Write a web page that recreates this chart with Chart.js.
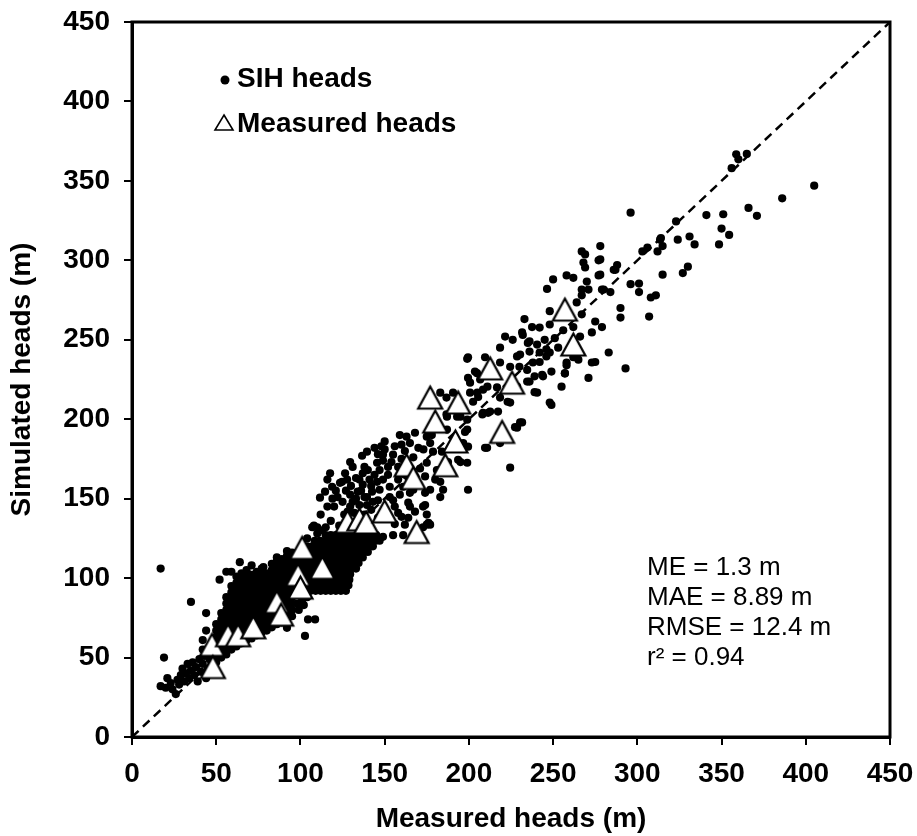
<!DOCTYPE html>
<html>
<head>
<meta charset="utf-8">
<script src="https://cdn.jsdelivr.net/npm/chart.js@4.4.1/dist/chart.umd.min.js"></script>
<style>
    html, body { margin: 0; padding: 0; background: #fff; }
    #wrap { width: 917px; height: 836px; }
</style>
</head>
<body>
<div id="wrap"><canvas id="headsChart" width="917" height="836"></canvas></div>
<script>
// ========================================
// データ (Measured x, Simulated y)
// ========================================

// 軸
const axisMin = 0;
const axisMax = 450;
const axisStep = 50;

// 統計値テキスト
const statLines = ['ME = 1.3 m', 'MAE = 8.89 m', 'RMSE = 12.4 m', 'r\u00B2 = 0.94'];

// SIH heads - 低い側の点
const sihTail = [
    [17,32],[20,31],[21,37],[23,34],[24,30],[26,27],[27,36],[28,33],[29,39],[30,43],
    [31,35],[32,40],[33,46],[34,37],[35,42],[36,47],[37,39],[38,44],[39,35],[40,49],
    [41,41],[42,46],[43,51],[44,37],[45,43],[46,49],[19,50],[42,55],[42,61],[44,67],
    [35,85],[44,78],[17,106],[52,99],[56,104],[59,104],[64,110],[71,108],[78,107],
    [86,113],[92,117],[98,84],[101,86],[104,88],[99,80],[102,83],[104.5,74],[108.7,74],
    [102.7,63.6],[92,68.7]
];

// SIH heads - 密集帯 (x, [y...])
const sihBandColumns = [
    [47, [45,49,53,57]],
    [50, [47,51,55,59,63,67,71]],
    [53, [50,54,58,62,66,70,74,78]],
    [56, [52,56,60,64,68,72,76,80,84,88]],
    [59, [55,59,63,67,71,75,79,83,87,91,95]],
    [62, [57,61,65,69,73,77,81,85,89,93,97,101]],
    [65, [59,63,67,71,75,79,83,87,91,95,99,103]],
    [68, [61,65,69,73,77,81,85,89,93,97,101,105]],
    [71, [62,66,70,74,78,82,86,90,94,98,102]],
    [74, [64,68,72,76,80,84,88,92,96,100,104]],
    [77, [66,70,74,78,82,86,90,94,98,102,106]],
    [80, [67,71,75,79,83,87,91,95,99,103]],
    [83, [69,73,77,81,85,89,93,97,101,105,109]],
    [86, [71,75,79,83,87,91,95,99,103,107,111]],
    [89, [72,76,80,84,88,92,96,100,104,108,112]],
    [92, [74,78,82,86,90,94,98,102,106,110,114]],
    [95, [76,80,84,88,92,96,100,104,108,112,116]]
];

// SIH heads - 中央の塊 (y, [x...])
const sihBlobRows = [
    [92,    [97,100,103,106,109,112,115,118,121,124,127]],
    [95.5,  [95.5,98.5,101.5,104.5,107.5,110.5,113.5,116.5,119.5,122.5,125.5,128.5]],
    [99,    [96,99,102,105,108,111,114,117,120,123,126,129]],
    [102.5, [96.5,99.5,102.5,105.5,108.5,111.5,114.5,117.5,120.5,123.5,126.5,129.5]],
    [106,   [97,100,103,106,109,112,115,118,121,124,127,130,133]],
    [109.5, [98.5,101.5,104.5,107.5,110.5,113.5,116.5,119.5,122.5,125.5,128.5,131.5,134.5]],
    [113,   [99,102,105,108,111,114,117,120,123,126,129,132,135,137]],
    [116.5, [101.5,104.5,107.5,110.5,113.5,116.5,119.5,122.5,125.5,128.5,131.5,134.5,137.5,140]],
    [120,   [104,107,110,113,116,119,122,125,128,131,134,137,140,143]],
    [123.5, [108.5,111.5,114.5,117.5,120.5,123.5,126.5,129.5,132.5,135.5,138.5,141.5,144.5,147]],
    [127,   [115,118,121,124,127,130,133,136,139,142,145]]
];

// SIH heads - 散らばった点 (中間域)
const sihMid = [
    [107,132],[110,132],[113,130],[115,132],[108,133],[111.6,150.6],[114.6,154.4],[118.8,157.5],
    [116,162],[117.6,166],[122,151],[124.7,160.6],[126.5,166],[129.5,152.5],[129.5,173],[131,170],
    [131,148],[134,154.4],[135,146],[135,162],[136.6,177],[137,166],[137,158.8],[139.5,179.6],
    [139.5,151],[139.5,146],[141,162],[142.5,154.4],[143,148],[145.5,172.6],[145.5,160.6],[146,149],
    [147,168],[147,155.6],[148,183],[149,177.7],[149,162],[149,174],[152,170],[153,157.5],[153,151],
    [155,177.7],[155,149],[156,145],[159,190],[159,152.5],[161,157.5],[160,138.6],[164,147.5],
    [164,138],[165,153.7],[165,145],[167,155.6],[168,191.5],[168,141.8],[172.8,145],[172.8,132],
    [174,153.7],[174,146],[175,140],[175,133.6],[177,133.6],[180,162],[184.7,155.6],[127.7,162],
    [123.5,160],[138,170],[138,151],[128,141.8],[129.5,145],[126.5,103],[161,127],[162,133.6],
    [149,126],[155,127],[176,134.8],[163,189],[160,184],[175,189],[177,185],[173,181],[178.7,179.6],
    [175,172.6],[181,168],[183,160.6],[174,164],[184,179.6],[187.6,173],[177,155.6],[183,151],
    [199.5,155.6],[178,190],[187,193.5],[187,201.6],[183,216.7],
    [112,140],[116,145],[119,150],[121,155],[125,148],[127,155],[130,158],[133,163],[133,150],
    [136,155],[140,168],[142,158],[144,165],[146,178],[150,181],[152,165],[154,173],[156,183],
    [158,170],[160,175],[162,180],[165,185],[167,176],[170,182],[171,169],[158,162],[162,165],
    [150,186],[144,182],[120,145],[126,140],[132,141],[138,140],[142,143],[146,138],[152,139],
    [156,134],[158,141],[118,136],[123,133],[104,125],[110,128]
];

// SIH heads - 散らばった点 (上側)
const sihUpper = [
    [199,238],[203.6,230],[200.7,223],[206.7,225],[211,220.5],[216.7,220],[218.5,213.6],[223,211],
    [212.6,204.8],[217.3,204.8],[208,203],[202.5,211],[205,216.7],[228.6,194.7],[231.6,198],
    [209.6,182],[224.5,169.5],[199,172.6],[195,173],[196.6,185],[197.7,192],[199,199.7],[193,201.6],
    [186.7,203],[186.7,213.6],[190.6,216.7],[199.5,226],[200.7,216.7],[208.4,204],[199,193.5],
    [199.5,182.7],[210.8,182],[218.5,185],[227.4,195],[230.4,198],[211.4,204],[204.8,229],
    [208.4,218.6],[205.5,214],[195,201.6],[193.6,174.5],[228.6,220.5],[224.5,210.5],[224.5,233],
    [230,233],[218.5,235.7],[218.5,245],[228.6,239.5],[221.5,252],[226,250],[199.5,239],[209.6,239],
    [232,253],[235,248],[230.4,240.7],[238,235.7],[246,244],[249,230],[244,227],[234.6,223.7],
    [239,217],[257,229],[258,235.7],[265,237.5],[273,235.7],[271,226],[255,220.5],[249,209],
    [248,210.5],[236,249],[240.5,247],[245,250],[251,251],[236,242.6],[242,242],[248,242],[253,245],
    [242,236],[246,239.5],[234.6,231],[239,227],[243.5,228],[240.5,216.7],[233,263],[237.5,258],
    [231.6,254.6],[242,257.7],[248,259.6],[248,268],[246.4,282],[250,288],[236,223.7],[283,242],
    [293,232],[275,236],[262,239],[258,234],[257,228.7],
    [267,305.6],[269,303.7],[278,309],[277,300],[268,298.6],[269,295.5],[258,290.5],[262,289],
    [277,290.5],[270,286.6],[288,297],[287,294],[267,281.6],[271,281.6],[267,278],[279,281.6],
    [284,280],[296,285],[301,285.4],[301,280],[264,273.5],[290,270],[290,264],[307,264.6],
    [308,276.6],[311,278],[312,305.6],[315,291],[324,313],[331,315],[334,310],[330,296],[327,292],
    [267,266],[275,261.5],[279,258],[273,254.6],[262,258],[266,252],[256,256],[286,294],[280,281.6],
    [278,300.6],[278,291],[296,330],[303,305.6],[306,308],[314,314],[315,309],[323,324.5],
    [313.5,313],[341,328.5],[351,329],[350,320],[354.5,316],[348.5,310],[366,333],[371,328],
    [386,339],[405,347],[358.7,366.7],[365,367],[360,363.6],[356,358]
];

// Measured heads (三角)
const measuredHeads = [
    [47.5,58],[48,44],[57,64],[63,64],[72,69],[86,85],[88.5,77],[98.6,102],[100,94],[101,119],
    [113,106.5],[128,135.5],[135,137],[139,135],[150,142],[169,129],[163,171],[167,163],
    [177,213.6],[193.6,210.5],[180,198.5],[192,186],[186,171],[212.6,232],[225.6,223],
    [219.7,192],[257,269],[262,247]
];

// 1:1 線
const oneToOne = [[0,0],[450,450]];

// ========================================
// チャート用データ変換
// ========================================

function toPoints(pairs) {
    return pairs.map(p => ({ x: p[0], y: p[1] }));
}

function buildSihPoints() {
    const pts = [];
    sihBandColumns.forEach(col => col[1].forEach(y => pts.push({ x: col[0], y: y })));
    sihBlobRows.forEach(row => row[1].forEach(x => pts.push({ x: x, y: row[0] })));
    return pts.concat(toPoints(sihTail), toPoints(sihMid), toPoints(sihUpper));
}

// 三角マーカー (白塗り・黒枠)
function makeTriangle(w, h, lw) {
    const c = document.createElement('canvas');
    c.width = Math.ceil(w + lw * 2 + 2);
    c.height = Math.ceil(h + lw * 2 + 2);
    const g = c.getContext('2d');
    const ox = (c.width - w) / 2;
    const oy = (c.height - h) / 2;
    g.beginPath();
    g.moveTo(ox + w / 2, oy);
    g.lineTo(ox + w, oy + h);
    g.lineTo(ox, oy + h);
    g.closePath();
    g.fillStyle = '#fff';
    g.fill();
    g.lineWidth = lw;
    g.strokeStyle = '#000';
    g.stroke();
    return c;
}

const FONT = "'Liberation Sans', Arial, sans-serif";

// 枠・凡例・統計テキスト
const overlayPlugin = {
    id: 'overlay',
    afterDraw(chart) {
        const ctx = chart.ctx;
        const a = chart.chartArea;
        ctx.save();
        ctx.strokeStyle = '#000';
        ctx.lineWidth = 3;
        ctx.strokeRect(a.left, a.top, a.right - a.left, a.bottom - a.top);

        // 凡例
        ctx.fillStyle = '#000';
        ctx.beginPath();
        ctx.arc(a.left + 93, a.top + 58, 4.5, 0, Math.PI * 2);
        ctx.fill();
        ctx.beginPath();
        ctx.moveTo(a.left + 92, a.top + 93);
        ctx.lineTo(a.left + 101, a.top + 108);
        ctx.lineTo(a.left + 83, a.top + 108);
        ctx.closePath();
        ctx.lineWidth = 1.6;
        ctx.stroke();
        ctx.font = 'bold 28px ' + FONT;
        ctx.textBaseline = 'alphabetic';
        ctx.textAlign = 'left';
        ctx.fillText('SIH heads', a.left + 105, a.top + 65);
        ctx.fillText('Measured heads', a.left + 105, a.top + 110);

        // 統計
        ctx.font = '26px ' + FONT;
        statLines.forEach((t, i) => {
            ctx.fillText(t, a.left + 515, a.top + 553 + i * 30);
        });
        ctx.restore();
    }
};

function axisOptions(titleText, isX) {
    return {
        type: 'linear',
        min: axisMin,
        max: axisMax,
        ticks: {
            stepSize: axisStep,
            autoSkip: false,
            maxRotation: 0,
            color: '#000',
            padding: isX ? 12 : 14,
            font: { family: FONT, size: 28, weight: 'bold' }
        },
        grid: {
            display: true,
            drawOnChartArea: false,
            drawTicks: true,
            tickLength: 8,
            color: '#000',
            lineWidth: 2
        },
        border: { display: true, color: '#000', width: 3 },
        title: {
            display: true,
            text: titleText,
            color: '#000',
            font: { family: FONT, size: 28, weight: 'bold' },
            padding: { top: 5, bottom: 0 }
        },
        afterFit(scale) {
            // ラベルのはみ出し分の余白は layout.padding で確保する
            scale.paddingTop = 0;
            scale.paddingBottom = 0;
            scale.paddingLeft = 0;
            scale.paddingRight = 0;
            if (isX) {
                scale.height = 99;
            } else {
                scale.width = 132;
            }
        }
    };
}

window.addEventListener('DOMContentLoaded', () => {
    const ctx = document.getElementById('headsChart').getContext('2d');
    new Chart(ctx, {
        type: 'scatter',
        data: {
            datasets: [
                {
                    label: 'Measured heads',
                    data: toPoints(measuredHeads),
                    pointStyle: makeTriangle(24, 22, 2.2),
                    pointRadius: 12,
                    order: 0
                },
                {
                    label: 'SIH heads',
                    data: buildSihPoints(),
                    backgroundColor: '#000',
                    borderColor: '#000',
                    borderWidth: 0,
                    pointRadius: 4.1,
                    order: 1
                },
                {
                    label: '1:1',
                    data: toPoints(oneToOne),
                    showLine: true,
                    borderColor: '#000',
                    borderWidth: 2.5,
                    borderDash: [9, 6],
                    pointRadius: 0,
                    order: 2
                }
            ]
        },
        options: {
            responsive: false,
            animation: false,
            devicePixelRatio: 1,
            layout: { autoPadding: false, padding: { left: 0, right: 27, top: 22, bottom: 0 } },
            plugins: {
                legend: { display: false },
                tooltip: { enabled: false }
            },
            scales: {
                x: axisOptions('Measured heads (m)', true),
                y: axisOptions('Simulated heads (m)', false)
            }
        },
        plugins: [overlayPlugin]
    });
});
</script>
</body>
</html>
